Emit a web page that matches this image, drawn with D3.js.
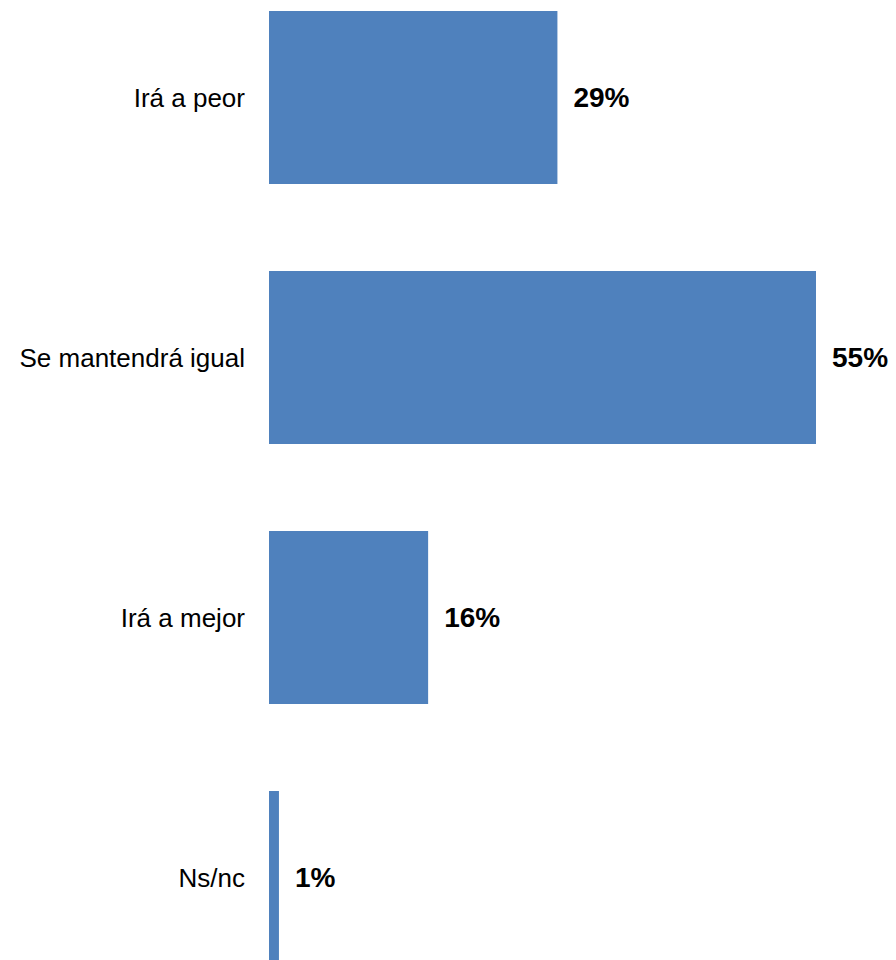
<!DOCTYPE html>
<html>
<head>
<meta charset="utf-8">
<script src="https://cdn.jsdelivr.net/npm/d3@7"></script>
<style>
  body { margin: 0; background: #fff; }
  svg { display: block; }
</style>
</head>
<body>
<svg class="chart" width="896" height="960"></svg>
<script>
// data
const categories = ["Irá a peor", "Se mantendrá igual", "Irá a mejor", "Ns/nc"];
const values = [29, 55, 16, 1];
const valueLabels = ["29%", "55%", "16%", "1%"];

const size = {w: 896, h: 960};
const left = 269;

let svg = d3.select("svg.chart");

// scales
let x = d3.scaleLinear()
  .domain([0, 55])
  .range([0, 547]);

let y = d3.scaleBand()
  .domain(categories)
  .range([-76, 1051])
  .padding(0.3346);

// bars
svg.append("g")
  .selectAll("rect")
  .data(categories)
  .enter()
  .append("rect")
    .attr("x", left)
    .attr("y", d => y(d))
    .attr("width", (d, i) => x(values[i]))
    .attr("height", y.bandwidth())
    .attr("fill", "#4F81BD");

// category labels
svg.append("g")
  .selectAll("text")
  .data(categories)
  .enter()
  .append("text")
    .attr("x", left - 24)
    .attr("y", d => y(d) + y.bandwidth() / 2)
    .attr("dy", "0.35em")
    .attr("text-anchor", "end")
    .attr("font-family", "Liberation Sans, Arial, sans-serif")
    .attr("font-size", 26)
    .attr("fill", "#000")
    .text(d => d);

// value labels
svg.append("g")
  .selectAll("text")
  .data(categories)
  .enter()
  .append("text")
    .attr("x", (d, i) => left + x(values[i]) + 16)
    .attr("y", d => y(d) + y.bandwidth() / 2)
    .attr("dy", "0.35em")
    .attr("font-family", "Liberation Sans, Arial, sans-serif")
    .attr("font-size", 28)
    .attr("font-weight", "bold")
    .attr("fill", "#000")
    .text((d, i) => valueLabels[i]);
</script>
</body>
</html>
